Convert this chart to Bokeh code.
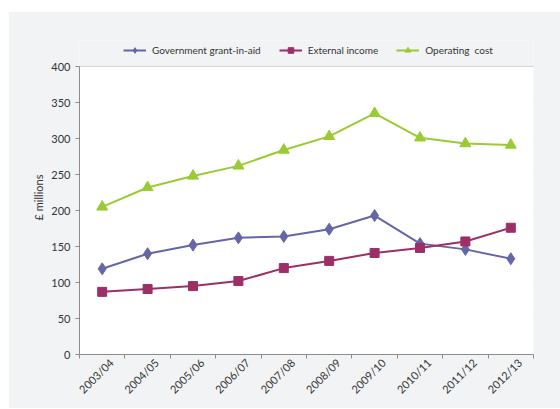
import math
from bokeh.plotting import figure
from bokeh.models import (Range1d, FixedTicker, CustomJSTickFormatter, BoxAnnotation,
                          Legend, LegendItem, ColumnDataSource)
from bokeh.embed import file_html
from bokeh.resources import INLINE

years = ["2003/04", "2004/05", "2005/06", "2006/07", "2007/08",
         "2008/09", "2009/10", "2010/11", "2011/12", "2012/13"]
grant = [119, 140, 152, 162, 164, 174, 193, 154, 146, 133]
external = [87, 91, 95, 102, 120, 130, 141, 148, 157, 176]
operating = [205, 232, 248, 262, 284, 303, 335, 301, 293, 291]
y_ticks = [0, 50, 100, 150, 200, 250, 300, 350, 400]
Y_MAX = 400

FONT = "Lato"
TXT = "#333333"
AX = "#8c8c8c"
BG = "#f2f3f5"
C_GRANT = "#6566a6"
C_EXT = "#9b2f66"
C_OP = "#9acb34"

n = len(years)
xc = [i + 0.5 for i in range(n)]  # category centres on a 0..n axis
LABEL_SHIFT = 0.2                  # rotated labels sit slightly right of centre

src = ColumnDataSource(data=dict(x=xc, year=years, grant=grant,
                                 external=external, operating=operating))

# frame extends above the 400 line to host the legend (288 px for 0..400, 314 px total)
TOP_EXT = Y_MAX * 314 / 288

p = figure(width=552, height=397,
           x_range=Range1d(0, n), y_range=Range1d(0, TOP_EXT),
           output_backend="svg", toolbar_location=None,
           min_border_left=71, min_border_right=27,
           min_border_top=29, min_border_bottom=54)
p.margin = (11, 0, 1, 8)
p.border_fill_color = BG
p.background_fill_color = BG
p.outline_line_color = None

# white plotting area 0..400
p.add_layout(BoxAnnotation(bottom=0, top=Y_MAX, fill_color="white", fill_alpha=1,
                           line_color=None, level="underlay"))

# x axis: boundary ticks as minor ticks, year labels as (hidden-tick) major ticks
xaxis = p.xaxis[0]
xaxis.ticker = FixedTicker(ticks=[c + LABEL_SHIFT for c in xc],
                           minor_ticks=list(range(n + 1)))
xaxis.formatter = CustomJSTickFormatter(args=dict(years=years),
                                        code="return years[Math.floor(tick)]")
xaxis.major_label_orientation = math.pi / 4
xaxis.major_label_text_font = FONT
xaxis.major_label_text_font_size = "11px"
xaxis.major_label_text_color = TXT
xaxis.major_label_standoff = 2
xaxis.axis_line_color = AX
xaxis.major_tick_line_color = None
xaxis.major_tick_out = 4
xaxis.major_tick_in = 0
xaxis.minor_tick_line_color = AX
xaxis.minor_tick_out = 4
xaxis.minor_tick_in = 0
p.xgrid.grid_line_color = None

# y axis
yaxis = p.yaxis[0]
yaxis.bounds = (0, Y_MAX)
yaxis.ticker = FixedTicker(ticks=y_ticks)
yaxis.axis_line_color = AX
yaxis.major_tick_line_color = AX
yaxis.major_tick_out = 4
yaxis.major_tick_in = 0
yaxis.minor_tick_line_color = None
yaxis.major_label_text_font = FONT
yaxis.major_label_text_font_size = "11px"
yaxis.major_label_text_color = TXT
yaxis.major_label_standoff = 5
yaxis.axis_label = "£ millions"
yaxis.axis_label_text_font = FONT
yaxis.axis_label_text_font_size = "11px"
yaxis.axis_label_text_font_style = "normal"
yaxis.axis_label_text_color = TXT
yaxis.axis_label_standoff = 3

p.ygrid.ticker = FixedTicker(ticks=y_ticks)
p.ygrid.grid_line_color = "#a6a6a6"
p.ygrid.grid_line_width = 1.2

# series
r1l = p.line("x", "grant", source=src, line_color=C_GRANT, line_width=2)
r1s = p.scatter("x", "grant", source=src, marker="diamond", size=12, color=C_GRANT)
r2l = p.line("x", "external", source=src, line_color=C_EXT, line_width=2)
r2s = p.scatter("x", "external", source=src, marker="square", size=9, color=C_EXT)
r3l = p.line("x", "operating", source=src, line_color=C_OP, line_width=2)
r3s = p.scatter("x", "operating", source=src, marker="triangle", size=11, color=C_OP)

legend = Legend(items=[
    LegendItem(label="Government grant-in-aid", renderers=[r1l, r1s]),
    LegendItem(label="External income", renderers=[r2l, r2s]),
    LegendItem(label="Operating  cost", renderers=[r3l, r3s]),
], orientation="horizontal", location=(44, 297))
legend.padding = 0
legend.margin = 0
legend.spacing = 18
legend.label_standoff = 6
legend.glyph_width = 23
legend.glyph_height = 14
legend.label_height = 14
legend.label_text_font = FONT
legend.label_text_font_size = "10px"
legend.label_text_color = TXT
legend.background_fill_alpha = 0
legend.border_line_color = None
p.add_layout(legend, "center")

open("out.html", "w").write(file_html(p, INLINE))
